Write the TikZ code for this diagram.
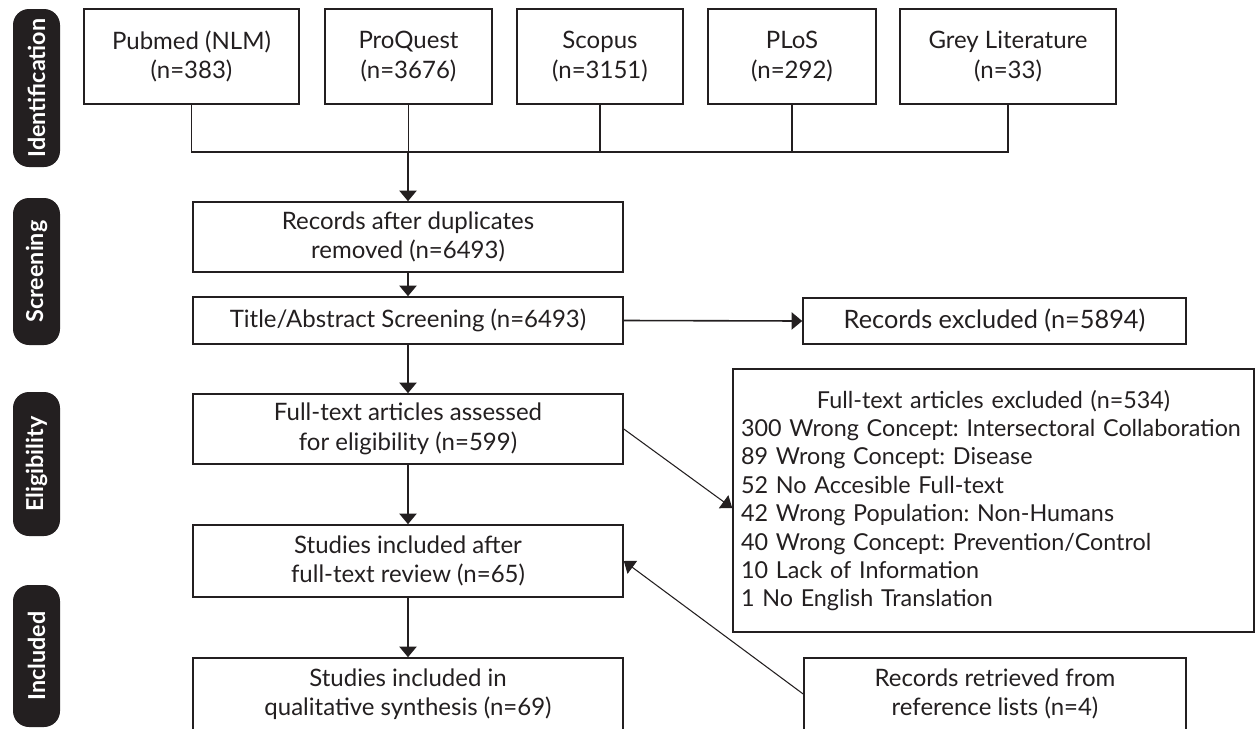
\documentclass[tikz,border=0pt]{standalone}
\usepackage{fontspec}
\setmainfont{Lato}
\usetikzlibrary{positioning,calc,arrows.meta}
\definecolor{ink}{HTML}{231F20}
\newdimen\px \px=0.75pt
\frenchspacing
\tikzset{
  box/.style={draw=ink, line width=1.2pt, text=ink, align=center, inner sep=0pt, font=\fontsize{18}{22}\selectfont},
  stage/.style={fill=ink, rounded corners=12pt, rotate=90, text=white, inner sep=0pt, minimum height=47\px, font=\bfseries\fontsize{17.5}{20}\selectfont},
  link/.style={draw=ink, line width=1.2pt},
  arr/.style={link, -{Triangle[width=13pt,length=8pt]}},
  thinarr/.style={draw=ink, line width=0.8pt, -{Triangle[width=12pt,length=8pt]}}
}
\begin{document}
\begin{tikzpicture}[x=0.75pt,y=-0.75pt]
    \useasboundingbox (0,0) rectangle (1255,728);

    % Stages
    \node[stage, minimum width=158\px] (ident) at (36.5,88) {Identification};
    \node[stage, minimum width=147\px] (screen) at (36.5,271.5) {Screening};
    \node[stage, minimum width=144\px] (elig) at (36.5,464) {Eligibility};
    \node[stage, minimum width=142\px] (inclst) at (36.5,656) {Included};

    % Sources
    \node[box, minimum width=215\px, minimum height=95\px] (pubmed) at (191.5,56.5) {Pubmed (NLM)\\(n=383)};
    \node[box, minimum width=167\px, minimum height=95\px] (proquest) at (408.5,56.5) {ProQuest\\(n=3676)};
    \node[box, minimum width=166\px, minimum height=95\px] (scopus) at (600,56.5) {Scopus\\(n=3151)};
    \node[box, minimum width=168\px, minimum height=95\px] (plos) at (792,56.5) {PLoS\\(n=292)};
    \node[box, minimum width=216\px, minimum height=95\px] (grey) at (1008,56.5) {Grey Literature\\(n=33)};

    % Main column
    \node[box, minimum width=430\px, minimum height=70\px] (dup) at (408,237) {Records after duplicates\\removed (n=6493)};
    \node[box, minimum width=430\px, minimum height=47\px] (title) at (408,320.5) {Title/Abstract Screening (n=6493)};
    \node[box, minimum width=430\px, minimum height=70\px] (full) at (408,429) {Full-text articles assessed\\for eligibility (n=599)};
    \node[box, minimum width=430\px, minimum height=72\px] (incl) at (408,561) {Studies included after\\full-text review (n=65)};
    \node[box, minimum width=430\px, minimum height=72\px] (qual) at (408,694) {Studies included in\\qualitative synthesis (n=69)};

    % Side column
    \node[box, minimum width=383\px, minimum height=46\px, font=\fontsize{19}{22}\selectfont] (excl) at (994.5,321) {Records excluded (n=5894)};
    \node[box, align=left, text width=505\px, minimum width=521\px, minimum height=263\px, font=\fontsize{17.5}{21.3}\selectfont] (fexcl) at (993.5,500.5) {%
      {\centering Full-text articles excluded (n=534)\par}
      300 Wrong Concept: Intersectoral Collaboration\\
      89 Wrong Concept: Disease\\
      52 No Accesible Full-text\\
      42 Wrong Population: Non-Humans\\
      40 Wrong Concept: Prevention/Control\\
      10 Lack of Information\\
      1 No English Translation};
    \node[box, minimum width=382\px, minimum height=72\px] (retr) at (995,694) {Records retrieved from\\reference lists (n=4)};

    % Connectors
    \coordinate (bus) at (408,152);
    \draw[link] (pubmed.south) -- (pubmed.south |- bus) -| (grey.south);
    \foreach \src in {proquest,scopus,plos}
        \draw[link] (\src.south) -- (\src.south |- bus);
    \draw[arr] (bus) -- (dup.north);
    \draw[arr] (dup.south) -- (title.north);
    \draw[arr] (title.east) -- (excl.west);
    \draw[arr] (title.south) -- (full.north);
    \draw[arr] (full.south) -- (incl.north);
    \draw[arr] (incl.south) -- (qual.north);
    \draw[thinarr] (full.east) -- ($(fexcl.west)+(0,7.5)$);
    \draw[thinarr] (retr.west) -- (incl.east);
\end{tikzpicture}
\end{document}
